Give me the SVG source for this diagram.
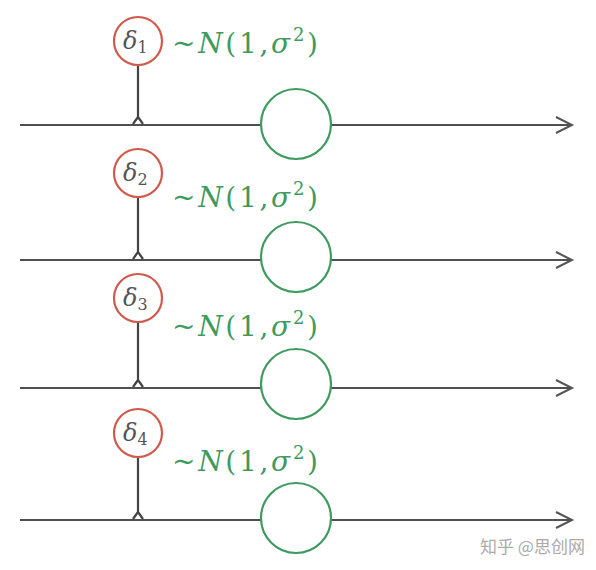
<svg xmlns="http://www.w3.org/2000/svg" width="596" height="570" viewBox="0 0 596 570">
<defs>
<marker id="arr" markerWidth="20" markerHeight="20" refX="17" refY="9" orient="auto" markerUnits="userSpaceOnUse">
<path d="M1,1 L17,9 L1,17" fill="none" stroke="#555" stroke-width="2"/>
</marker>
</defs>
<style>
.axis{stroke:#505050;stroke-width:2.2;fill:none}
.stem{stroke:#444;stroke-width:2.2;fill:none}
.red{fill:#fff;stroke:#d0594c;stroke-width:2.2}
.green{fill:#fff;stroke:#3e9a5e;stroke-width:2.2}
.delta{font-family:"DejaVu Serif","Liberation Serif",serif;font-size:24px;fill:#555}
.dist{font-family:"DejaVu Serif","Liberation Serif",serif;font-size:28px;fill:#3f9a5e}
.it{font-style:italic}
.wm{font-family:"Noto Sans CJK SC",sans-serif;font-size:17px;fill:#aaa}
</style>
<g id="connectors">
<line class="axis" x1="20" y1="125" x2="572" y2="125" marker-end="url(#arr)"/>
<line class="axis" x1="20" y1="260" x2="572" y2="260" marker-end="url(#arr)"/>
<line class="axis" x1="20" y1="388" x2="572" y2="388" marker-end="url(#arr)"/>
<line class="axis" x1="20" y1="520" x2="572" y2="520" marker-end="url(#arr)"/>
<path class="stem" d="M138,65 V118 M133,124 L138,117 L143,124"/>
<path class="stem" d="M138,197 V253 M133,259 L138,252 L143,259"/>
<path class="stem" d="M138,322 V381 M133,387 L138,380 L143,387"/>
<path class="stem" d="M138,457 V513 M133,519 L138,512 L143,519"/>
</g>
<g id="delta1"><circle class="red" cx="138" cy="41" r="24"/><text class="delta" x="123" y="49"><tspan class="it">δ</tspan><tspan font-size="16" dy="4">1</tspan></text></g>
<g id="delta2"><circle class="red" cx="138" cy="173" r="24"/><text class="delta" x="123" y="181"><tspan class="it">δ</tspan><tspan font-size="16" dy="4">2</tspan></text></g>
<g id="delta3"><circle class="red" cx="138" cy="298" r="24"/><text class="delta" x="123" y="306"><tspan class="it">δ</tspan><tspan font-size="16" dy="4">3</tspan></text></g>
<g id="delta4"><circle class="red" cx="138" cy="433" r="24"/><text class="delta" x="123" y="441"><tspan class="it">δ</tspan><tspan font-size="16" dy="4">4</tspan></text></g>
<g id="dist1"><text class="dist" x="172" y="53" textLength="146" lengthAdjust="spacing">~<tspan class="it">N</tspan>(1,<tspan class="it">σ</tspan><tspan font-size="18" dy="-12">2</tspan><tspan dy="12">)</tspan></text></g>
<g id="dist2"><text class="dist" x="172" y="207" textLength="146" lengthAdjust="spacing">~<tspan class="it">N</tspan>(1,<tspan class="it">σ</tspan><tspan font-size="18" dy="-12">2</tspan><tspan dy="12">)</tspan></text></g>
<g id="dist3"><text class="dist" x="172" y="336" textLength="146" lengthAdjust="spacing">~<tspan class="it">N</tspan>(1,<tspan class="it">σ</tspan><tspan font-size="18" dy="-12">2</tspan><tspan dy="12">)</tspan></text></g>
<g id="dist4"><text class="dist" x="172" y="471" textLength="146" lengthAdjust="spacing">~<tspan class="it">N</tspan>(1,<tspan class="it">σ</tspan><tspan font-size="18" dy="-12">2</tspan><tspan dy="12">)</tspan></text></g>
<g id="node1"><circle class="green" cx="296" cy="124" r="35"/></g>
<g id="node2"><circle class="green" cx="296" cy="257" r="35"/></g>
<g id="node3"><circle class="green" cx="296" cy="384" r="35"/></g>
<g id="node4"><circle class="green" cx="296" cy="518" r="35"/></g>
<text class="wm" x="480" y="553">知乎 @思创网</text>
</svg>
